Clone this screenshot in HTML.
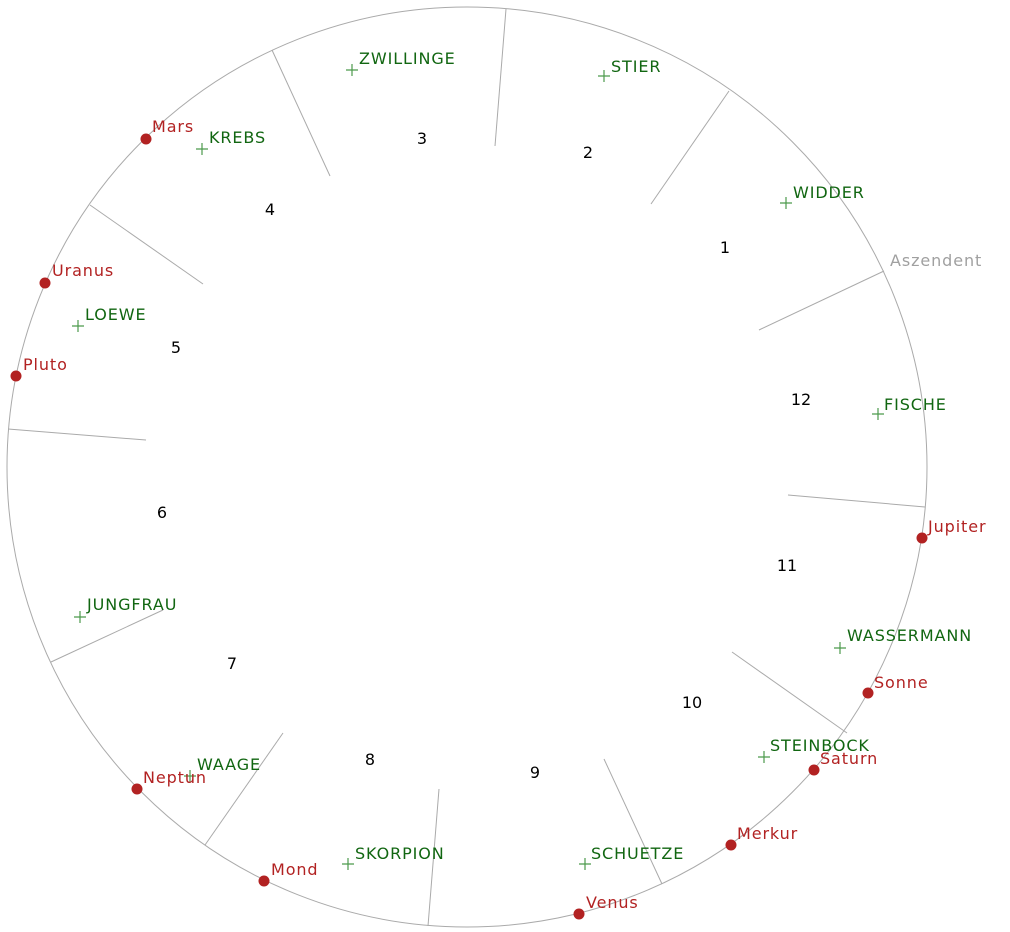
<!DOCTYPE html>
<html><head><meta charset="utf-8"><style>
html,body{margin:0;padding:0;background:#fff;}
svg{display:block;font-family:"DejaVu Sans","Liberation Sans",sans-serif;font-size:16px;}
.g,.r,.a{letter-spacing:0.9px;}
.g{fill:#116611;}
.r{fill:#b22222;}
.p{stroke:#4c9a4c;stroke-width:1.2;}
.n{fill:#000;font-size:16px;}
</style></head><body>
<svg width="1010" height="932" viewBox="0 0 1010 932">
<circle cx="467" cy="467" r="460" fill="none" stroke="#aaa" stroke-width="1"/>
<g stroke="#aaa" stroke-width="1">
<line x1="495" y1="146" x2="506" y2="9"/>
<line x1="651" y1="204" x2="729" y2="91"/>
<line x1="759" y1="330" x2="884" y2="271"/>
<line x1="788" y1="495" x2="925" y2="507"/>
<line x1="732" y1="652" x2="847" y2="733"/>
<line x1="604" y1="759" x2="662" y2="884"/>
<line x1="439" y1="789" x2="428" y2="926"/>
<line x1="283" y1="733" x2="205" y2="845"/>
<line x1="163" y1="610" x2="51" y2="662"/>
<line x1="146" y1="440" x2="8" y2="429"/>
<line x1="203" y1="284" x2="90" y2="205"/>
<line x1="330" y1="176" x2="272" y2="50"/>
</g>
<g class="n" text-anchor="middle">
<text x="725" y="253">1</text>
<text x="588" y="158">2</text>
<text x="422" y="144">3</text>
<text x="270" y="215">4</text>
<text x="176" y="353">5</text>
<text x="162" y="518">6</text>
<text x="232" y="669">7</text>
<text x="370" y="765">8</text>
<text x="535" y="778">9</text>
<text x="692" y="708">10</text>
<text x="787" y="571">11</text>
<text x="801" y="405">12</text>
</g>
<text class="a" x="890" y="266" fill="#a0a0a0">Aszendent</text>
<g class="p">
<path d="M786 197v12M780 203h12"/>
<path d="M604 70v12M598 76h12"/>
<path d="M352 64v12M346 70h12"/>
<path d="M202 143v12M196 149h12"/>
<path d="M78 320v12M72 326h12"/>
<path d="M80 611v12M74 617h12"/>
<path d="M190 770v12M184 776h12"/>
<path d="M348 858v12M342 864h12"/>
<path d="M585 858v12M579 864h12"/>
<path d="M764 751v12M758 757h12"/>
<path d="M840 642v12M834 648h12"/>
<path d="M878 408v12M872 414h12"/>
</g>
<g class="g">
<text x="793" y="198">WIDDER</text>
<text x="611" y="72">STIER</text>
<text x="359" y="64">ZWILLINGE</text>
<text x="209" y="143">KREBS</text>
<text x="85" y="320">LOEWE</text>
<text x="87" y="610">JUNGFRAU</text>
<text x="197" y="770">WAAGE</text>
<text x="355" y="859">SKORPION</text>
<text x="591" y="859">SCHUETZE</text>
<text x="770" y="751">STEINBOCK</text>
<text x="847" y="641">WASSERMANN</text>
<text x="884" y="410">FISCHE</text>
</g>
<g fill="#b22222">
<circle cx="146" cy="139" r="5.5"/>
<circle cx="45" cy="283" r="5.5"/>
<circle cx="16" cy="376" r="5.5"/>
<circle cx="922" cy="538" r="5.5"/>
<circle cx="868" cy="693" r="5.5"/>
<circle cx="814" cy="770" r="5.5"/>
<circle cx="731" cy="845" r="5.5"/>
<circle cx="579" cy="914" r="5.5"/>
<circle cx="264" cy="881" r="5.5"/>
<circle cx="137" cy="789" r="5.5"/>
</g>
<g class="r">
<text x="152" y="132">Mars</text>
<text x="52" y="276">Uranus</text>
<text x="23" y="370">Pluto</text>
<text x="928" y="532">Jupiter</text>
<text x="874" y="688">Sonne</text>
<text x="820" y="764">Saturn</text>
<text x="737" y="839">Merkur</text>
<text x="586" y="908">Venus</text>
<text x="271" y="875">Mond</text>
<text x="143" y="783">Neptun</text>
</g>
</svg>
</body></html>
